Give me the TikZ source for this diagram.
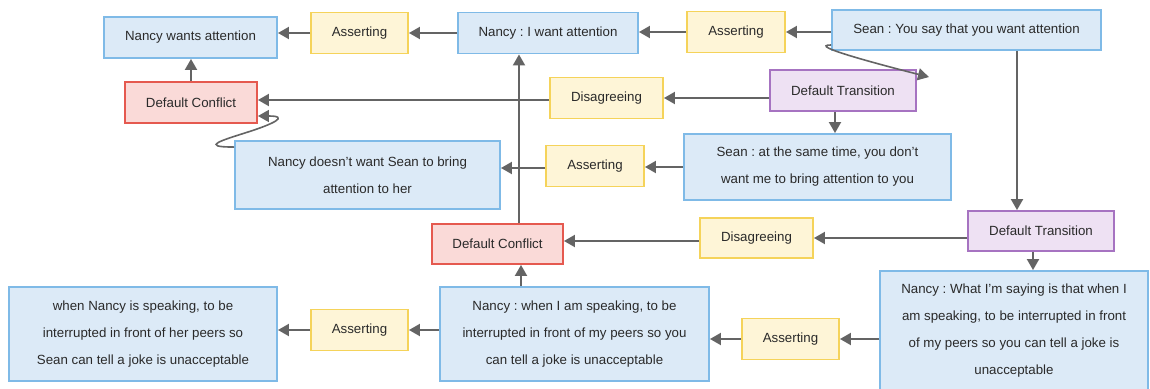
\documentclass[tikz,border=0pt]{standalone}
\usepackage{fontspec}
\setmainfont{Liberation Sans}
\usetikzlibrary{arrows.meta}
\frenchspacing

\definecolor{bluefill}{HTML}{DCEAF7}
\definecolor{blueline}{HTML}{7FBAE7}
\definecolor{yellowfill}{HTML}{FEF5D7}
\definecolor{yellowline}{HTML}{F5D35A}
\definecolor{redfill}{HTML}{FADAD8}
\definecolor{redline}{HTML}{E5594F}
\definecolor{purplefill}{HTML}{EEE1F3}
\definecolor{purpleline}{HTML}{A673C1}
\definecolor{edgegray}{HTML}{646464}
\definecolor{textgray}{HTML}{2A2A2A}

\tikzset{
  box/.style={rectangle, line width=1.9pt, inner sep=0pt, align=center,
    text=textgray, font=\fontsize{13.3}{27}\selectfont},
  stmt/.style={box, draw=blueline, fill=bluefill},
  relation/.style={box, draw=yellowline, fill=yellowfill},
  conflict/.style={box, draw=redline, fill=redfill},
  transition/.style={box, draw=purpleline, fill=purplefill},
  edge/.style={draw=edgegray, line width=2pt,
    -{Triangle[length=11pt,width=12pt]}},
  loopedge/.style={edge, line width=1.6pt},
}

\begin{document}
\begin{tikzpicture}[x=1pt,y=-1pt]
\useasboundingbox (0,0) rectangle (1150,388);

% top row
\node[stmt, minimum width=173pt, minimum height=41pt] (N1) at (190.5,37.5) {Nancy wants attention};
\node[relation, minimum width=97pt, minimum height=41pt] (A1) at (359.5,33) {Asserting};
\node[stmt, minimum width=180pt, minimum height=41pt] (N2) at (548,33) {Nancy : I want attention};
\node[relation, minimum width=98pt, minimum height=41pt] (A2) at (736,32) {Asserting};
\node[stmt, minimum width=269pt, minimum height=40pt] (S1) at (966.5,30) {Sean : You say that you want attention};

% second row
\node[conflict, minimum width=132pt, minimum height=41pt] (DC1) at (191,102.5) {Default Conflict};
\node[relation, minimum width=113pt, minimum height=41pt] (D1) at (606.5,98) {Disagreeing};
\node[transition, minimum width=146pt, minimum height=41pt] (DT1) at (843,90.5) {Default Transition};

% third row
\node[stmt, minimum width=265pt, minimum height=68pt] (N3) at (367.5,175) {Nancy doesn't want Sean to bring\\attention to her};
\node[relation, minimum width=98pt, minimum height=41pt] (A3) at (595,166) {Asserting};
\node[stmt, minimum width=267pt, minimum height=66pt] (S2) at (817.5,167) {Sean : at the same time, you don't\\want me to bring attention to you};

% fourth row
\node[conflict, minimum width=131pt, minimum height=40pt] (DC2) at (497.5,244) {Default Conflict};
\node[relation, minimum width=113pt, minimum height=40pt] (D2) at (756.5,238) {Disagreeing};
\node[transition, minimum width=146pt, minimum height=40pt] (DT2) at (1041,231) {Default Transition};

% bottom row
\node[stmt, minimum width=268pt, minimum height=94pt] (N4) at (143,334) {when Nancy is speaking, to be\\interrupted in front of her peers so\\Sean can tell a joke is unacceptable};
\node[relation, minimum width=97pt, minimum height=41pt] (A4) at (359.5,330) {Asserting};
\node[stmt, minimum width=269pt, minimum height=94pt] (N5) at (574.5,334) {Nancy : when I am speaking, to be\\interrupted in front of my peers so you\\can tell a joke is unacceptable};
\node[relation, minimum width=97pt, minimum height=41pt] (A5) at (790.5,339) {Asserting};
\node[stmt, minimum width=268pt, minimum height=120pt] (N6) at (1014,331) {Nancy : What I'm saying is that when I\\am speaking, to be interrupted in front\\of my peers so you can tell a joke is\\unacceptable};

% top chain
\draw[edge] (S1.west |- A2.east) -- (A2.east);
\draw[edge] (A2.west) -- (A2.west -| N2.east);
\draw[edge] (N2.west |- A1.east) -- (A1.east);
\draw[edge] (A1.west) -- (A1.west -| N1.east);
\draw[edge] (DC1.north) -- (DC1.north |- N1.south);

% first transition
\draw[loopedge] ([yshift=-15pt]S1.west) .. controls +(-24,0) and +(-55,-14) .. ([xshift=12pt,yshift=-8pt]DT1.north east);
\draw[edge] (DT1.west |- D1.east) -- (D1.east);
\draw[edge] ([yshift=-2pt]D1.west) -- ([yshift=-2pt]D1.west -| DC1.east);
\draw[edge] ([xshift=-8pt]DT1.south) -- ([xshift=-8pt]DT1.south |- S2.north);
\draw[edge] (S2.west) -- (S2.west -| A3.east);
\draw[edge] ([yshift=-2pt]A3.west) -- ([yshift=-2pt]A3.west -| N3.east);
\draw[loopedge] ([yshift=-7pt]N3.north west) .. controls +(-36,0) and +(-25,8) .. (248,132)
  .. controls +(25,-8) and +(32,0) .. ([yshift=-13.5pt]DC1.east);

% second transition
\draw[edge] ([xshift=50.5pt]S1.south) -- ([xshift=50.5pt]S1.south |- DT2.north);
\draw[edge] (DT2.west |- D2.east) -- (D2.east);
\draw[edge] ([yshift=-3pt]D2.west) -- ([yshift=-3pt]D2.west -| DC2.east);
\draw[edge] ([xshift=-8pt]DT2.south) -- ([xshift=-8pt]DT2.south |- N6.north);
\draw[edge] (N6.west |- A5.east) -- (A5.east);
\draw[edge] (A5.west) -- (A5.west -| N5.east);
\draw[edge] ([xshift=23.5pt]DC2.south |- N5.north) -- ([xshift=23.5pt]DC2.south);
\draw[edge] (N5.west |- A4.east) -- (A4.east);
\draw[edge] (A4.west) -- (A4.west -| N4.east);
\draw[edge] ([xshift=21.5pt]DC2.north) -- ([xshift=21.5pt]DC2.north |- N2.south);
\end{tikzpicture}
\end{document}
